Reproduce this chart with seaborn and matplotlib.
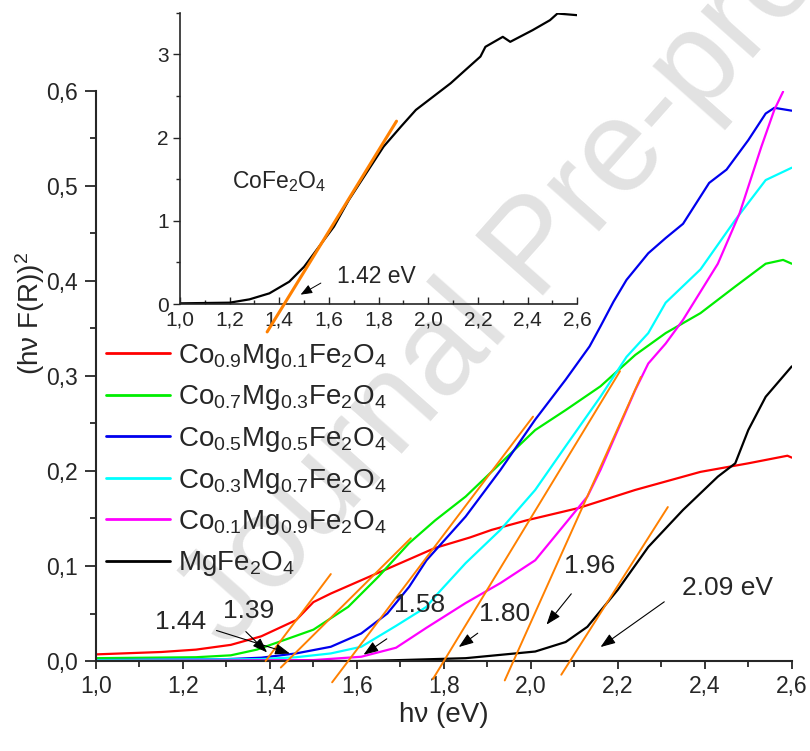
import numpy as np
import pandas as pd
import matplotlib
matplotlib.use("Agg")
import matplotlib.pyplot as plt
from matplotlib.ticker import MultipleLocator, FuncFormatter
import seaborn as sns

# ---------------- data ----------------
x_red = [1.00, 1.15, 1.23, 1.31, 1.38, 1.46, 1.50, 1.54, 1.61, 1.69, 1.78, 1.86, 1.91, 1.99, 2.11, 2.24, 2.39, 2.50, 2.59, 2.60]
y_red = [0.007, 0.0095, 0.012, 0.017, 0.026, 0.043, 0.062, 0.071, 0.085, 0.101, 0.119, 0.130, 0.138, 0.148, 0.161, 0.180, 0.199, 0.208, 0.216, 0.214]

x_green = [1.00, 1.23, 1.31, 1.37, 1.42, 1.50, 1.58, 1.65, 1.72, 1.78, 1.85, 1.93, 2.01, 2.08, 2.16, 2.24, 2.31, 2.39, 2.47, 2.54, 2.58, 2.60]
y_green = [0.003, 0.004, 0.006, 0.012, 0.020, 0.033, 0.057, 0.089, 0.124, 0.148, 0.173, 0.208, 0.243, 0.264, 0.289, 0.322, 0.345, 0.366, 0.394, 0.418, 0.422, 0.418]

x_blue = [1.00, 1.30, 1.38, 1.46, 1.54, 1.61, 1.67, 1.72, 1.76, 1.85, 1.93, 2.01, 2.08, 2.135, 2.16, 2.19, 2.22, 2.27, 2.31, 2.35, 2.41, 2.45, 2.50, 2.54, 2.56, 2.60]
y_blue = [0.001, 0.002, 0.0035, 0.008, 0.015, 0.029, 0.050, 0.078, 0.106, 0.152, 0.201, 0.254, 0.296, 0.331, 0.352, 0.378, 0.401, 0.429, 0.445, 0.460, 0.503, 0.517, 0.548, 0.576, 0.582, 0.579]

x_cyan = [1.00, 1.38, 1.46, 1.54, 1.61, 1.69, 1.76, 1.78, 1.85, 1.93, 2.01, 2.08, 2.16, 2.22, 2.27, 2.31, 2.39, 2.47, 2.54, 2.60]
y_cyan = [0.001, 0.002, 0.004, 0.008, 0.015, 0.037, 0.057, 0.068, 0.103, 0.138, 0.180, 0.226, 0.278, 0.320, 0.345, 0.377, 0.412, 0.464, 0.506, 0.519]

x_mag = [1.00, 1.50, 1.61, 1.69, 1.76, 1.85, 1.93, 2.01, 2.08, 2.13, 2.16, 2.20, 2.24, 2.27, 2.31, 2.35, 2.43, 2.48, 2.53, 2.56, 2.58]
y_mag = [0.000, 0.001, 0.0045, 0.014, 0.035, 0.061, 0.082, 0.106, 0.145, 0.173, 0.201, 0.243, 0.285, 0.313, 0.334, 0.359, 0.418, 0.471, 0.541, 0.580, 0.599]

x_black = [1.00, 1.60, 1.70, 1.85, 2.01, 2.08, 2.13, 2.20, 2.27, 2.35, 2.43, 2.47, 2.50, 2.54, 2.60]
y_black = [0.000, 0.000, 0.001, 0.003, 0.010, 0.020, 0.036, 0.075, 0.120, 0.159, 0.194, 0.208, 0.243, 0.278, 0.310]

x_co = [1.00, 1.20, 1.28, 1.36, 1.44, 1.50, 1.55, 1.62, 1.68, 1.75, 1.82, 1.89, 1.95, 2.02, 2.09, 2.15, 2.21, 2.23, 2.30, 2.33, 2.42, 2.49, 2.52, 2.60]
y_co = [0.008, 0.016, 0.056, 0.128, 0.268, 0.448, 0.649, 0.93, 1.25, 1.571, 1.891, 2.132, 2.332, 2.492, 2.652, 2.813, 2.973, 3.09, 3.21, 3.15, 3.29, 3.41, 3.49, 3.47]

labels = [r'Co$_{0.9}$Mg$_{0.1}$Fe$_2$O$_4$', r'Co$_{0.7}$Mg$_{0.3}$Fe$_2$O$_4$',
          r'Co$_{0.5}$Mg$_{0.5}$Fe$_2$O$_4$', r'Co$_{0.3}$Mg$_{0.7}$Fe$_2$O$_4$',
          r'Co$_{0.1}$Mg$_{0.9}$Fe$_2$O$_4$', r'MgFe$_2$O$_4$']
colors = ['#FF0000', '#00EE00', '#0000EE', '#00FFFF', '#FF00FF', '#000000']
series_x = [x_red, x_green, x_blue, x_cyan, x_mag, x_black]
series_y = [y_red, y_green, y_blue, y_cyan, y_mag, y_black]

# band-gap tangent fits: Eg, slope, x-start, x-end
gap_eg = [1.39, 1.44, 1.58, 1.80, 1.96, 2.09]
gap_slope = [0.61, 0.455, 0.605, 0.753, 1.02, 0.72]
gap_x0 = [1.39, 1.425, 1.543, 1.775, 1.94, 2.07]
gap_x1 = [1.54, 1.724, 2.005, 2.205, 2.253, 2.315]
gap_text = ['1.39', '1.44', '1.58', '1.80', '1.96', '2.09 eV']

inset_eg = 1.42
inset_slope = 4.86
inset_x0, inset_x1 = 1.351, 1.872

# ---------------- style ----------------
sns.set_style('ticks')
plt.rcParams['font.family'] = ['Liberation Sans', 'DejaVu Sans']
plt.rcParams['mathtext.default'] = 'regular'
plt.rcParams['axes.unicode_minus'] = False

fig = plt.figure(figsize=(8.1, 7.51), dpi=100)

fig.text(0.663, 0.667, 'Journal Pre-proof', rotation=48.4, fontsize=94,
         color='#e2e2e2', ha='center', va='center', zorder=-1)

comma = FuncFormatter(lambda v, p: ('%.1f' % v).replace('.', ','))

# ---------------- main axes ----------------
ax = fig.add_axes([0.1185, 0.1198, 0.859, 0.7594])
ax.patch.set_alpha(0)
for xs, ys, c, lab in zip(series_x, series_y, colors, labels):
    df = pd.DataFrame({'x': xs, 'y': ys})
    sns.lineplot(data=df, x='x', y='y', ax=ax, color=c, lw=1.6, label=lab,
                 sort=False, estimator=None)

ax.set_xlim(1.0, 2.6)
ax.set_ylim(0, 0.6)
for eg, s, a, b in zip(gap_eg, gap_slope, gap_x0, gap_x1):
    xx = np.array([a, b])
    ax.plot(xx, s * (xx - eg), color='#FF8000', lw=1.4, clip_on=False, zorder=5)

sns.despine(ax=ax)
for sp in ['left', 'bottom']:
    ax.spines[sp].set_linewidth(1.5)
ax.xaxis.set_major_locator(MultipleLocator(0.2))
ax.xaxis.set_minor_locator(MultipleLocator(0.1))
ax.yaxis.set_major_locator(MultipleLocator(0.1))
ax.yaxis.set_minor_locator(MultipleLocator(0.05))
ax.xaxis.set_major_formatter(comma)
ax.yaxis.set_major_formatter(comma)
ax.tick_params(axis='both', which='major', direction='out', length=6, width=1.3,
               labelsize=16.5, pad=4)
ax.tick_params(axis='y', which='major', length=8, pad=5)
ax.tick_params(axis='both', which='minor', direction='out', length=4, width=1.3)

ax.set_xlabel('h\u03bd (eV)', fontsize=20)
ax.set_ylabel('(h\u03bd F(R))$^2$', fontsize=20)
ax.xaxis.set_label_coords(0.5, -0.072)
ax.yaxis.set_label_coords(-0.07, 0.61)

# annotations
text_pos = [(1.352, 0.053), (1.195, 0.041), (1.745, 0.059), (1.940, 0.049), (2.136, 0.100), (2.453, 0.077)]
arrow_tail = [(1.340, 0.033), (1.271, 0.033), (1.674, 0.025), (1.883, 0.031), (2.097, 0.073), (2.312, 0.064)]
arrow_head = [(1.398, 0.007), (1.452, 0.007), (1.610, 0.005), (1.829, 0.013), (2.032, 0.036), (2.155, 0.013)]
for t, tp, at, ah in zip(gap_text, text_pos, arrow_tail, arrow_head):
    ax.text(tp[0], tp[1], t, fontsize=19, ha='center', va='center', zorder=6)
    ax.annotate('', xy=ah, xytext=at,
                arrowprops=dict(arrowstyle='-|>,head_length=0.6,head_width=0.22',
                                color='black', lw=0.8, mutation_scale=15), zorder=6)

leg = ax.legend(loc='upper left', bbox_to_anchor=(106 / 810, 1 - 342 / 751),
                bbox_transform=fig.transFigure, frameon=False, fontsize=20,
                handlelength=2.3, handletextpad=0.3, labelspacing=0.45,
                borderpad=0, borderaxespad=0)
for h in leg.get_lines():
    h.set_linewidth(2)

# ---------------- inset ----------------
ins = fig.add_axes([0.2222, 0.5952, 0.4905, 0.3879])
ins.patch.set_alpha(0)
sns.lineplot(x=x_co, y=y_co, ax=ins, color='black', lw=1.6, sort=False, estimator=None)
xx = np.array([inset_x0, inset_x1])
ins.plot(xx, inset_slope * (xx - inset_eg), color='#FF8000', lw=2.2, clip_on=False, zorder=5)
ins.set_xlim(1.0, 2.6)
ins.set_ylim(0, 3.5)
sns.despine(ax=ins)
for sp in ['left', 'bottom']:
    ins.spines[sp].set_linewidth(1.2)
ins.xaxis.set_major_locator(MultipleLocator(0.2))
ins.xaxis.set_minor_locator(MultipleLocator(0.1))
ins.yaxis.set_major_locator(MultipleLocator(1))
ins.yaxis.set_minor_locator(MultipleLocator(0.5))
ins.xaxis.set_major_formatter(comma)
ins.tick_params(axis='x', which='major', direction='in', length=5, width=1, labelsize=15, pad=5)
ins.tick_params(axis='x', which='minor', direction='in', length=3, width=1)
ins.tick_params(axis='y', which='major', direction='out', length=5, width=1, labelsize=15, pad=3)
ins.tick_params(axis='y', which='minor', direction='out', length=3, width=1)
ins.set_xlabel('')
ins.set_ylabel('')
ins.text(1.209, 1.47, r'CoFe$_2$O$_4$', fontsize=16.5, ha='left', va='center')
ins.text(1.789, 0.325, '1.42 eV', fontsize=16.5, ha='center', va='center')
ins.annotate('', xy=(1.476, 0.096), xytext=(1.577, 0.268),
             arrowprops=dict(arrowstyle='-|>,head_length=0.5,head_width=0.2',
                             color='black', lw=0.7, mutation_scale=14))

fig.savefig('out.png', dpi=100)
